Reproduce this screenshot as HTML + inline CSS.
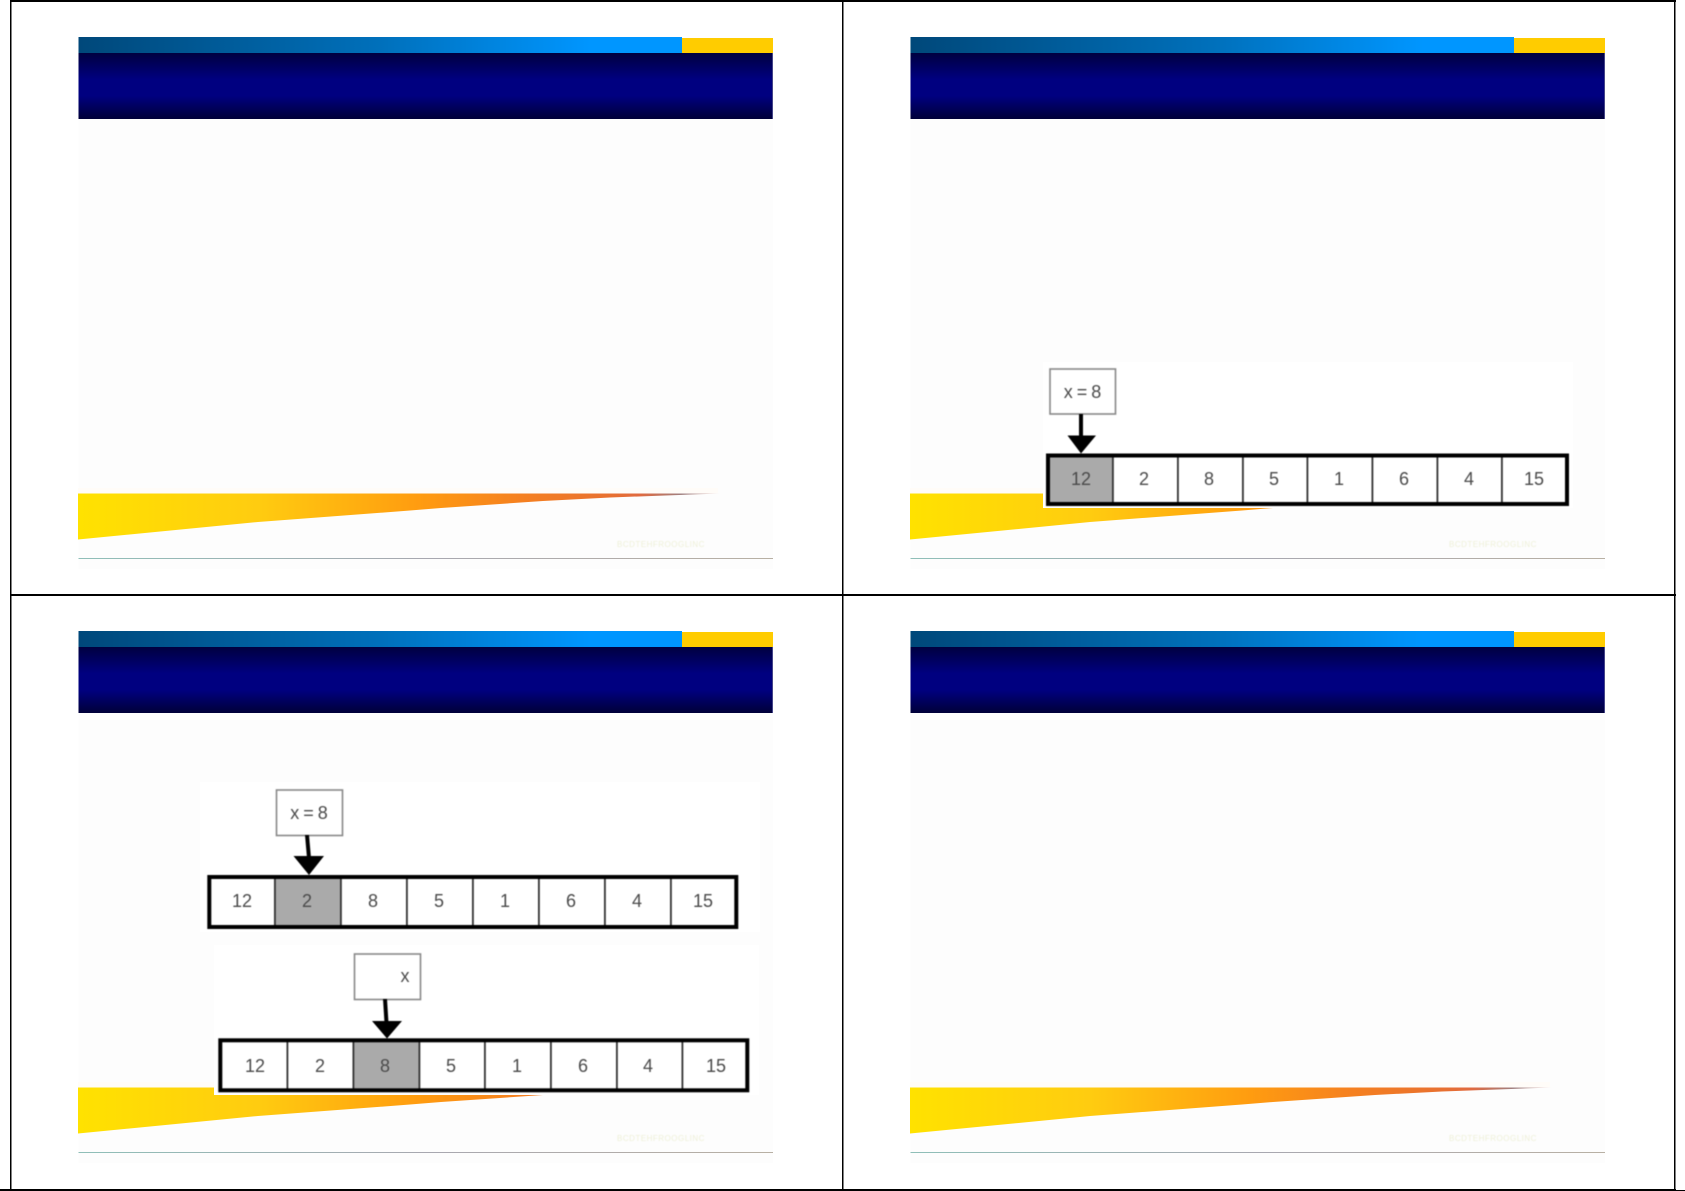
<!DOCTYPE html>
<html><head><meta charset="utf-8"><style>
html,body{margin:0;padding:0;background:#fff;width:1685px;height:1191px;overflow:hidden}
svg{display:block}
text{font-family:"Liberation Sans",sans-serif;font-size:18px;fill:#4a4a4a;text-anchor:middle}
.foot{font-size:8px;fill:#eef0d8;text-anchor:start;letter-spacing:.5px;filter:blur(.6px)}
.k{word-spacing:-1px}
</style></head><body>
<svg width="1685" height="1191" viewBox="0 0 1685 1191" xmlns="http://www.w3.org/2000/svg">
<defs>
<linearGradient id="b"><stop offset="0" stop-color="#00487a"/><stop offset=".5" stop-color="#0070bb"/><stop offset=".85" stop-color="#0096ff"/><stop offset="1" stop-color="#0096ff"/></linearGradient>
<linearGradient id="n" x2="0" y2="1"><stop offset="0" stop-color="#000040"/><stop offset=".4" stop-color="#000080"/><stop offset=".65" stop-color="#000080"/><stop offset="1" stop-color="#000038"/></linearGradient>
<linearGradient id="s"><stop offset="0" stop-color="#ffe200"/><stop offset=".28" stop-color="#ffcc10"/><stop offset=".53" stop-color="#ff9c10"/><stop offset=".69" stop-color="#f58020"/><stop offset=".83" stop-color="#e87030"/><stop offset=".875" stop-color="#e06a40"/><stop offset=".94" stop-color="#a08080"/><stop offset="1" stop-color="#fde4dc"/></linearGradient>
<linearGradient id="f"><stop offset="0" stop-color="#8fbfb8"/><stop offset=".5" stop-color="#a8a8b0"/><stop offset="1" stop-color="#b8b0a4"/></linearGradient>
<g id="slide">
<rect x="78.5" y="119" width="694.5" height="450" fill="#fdfdfd"/>
<rect x="78.5" y="37" width="603.5" height="16" fill="url(#b)"/>
<rect x="682" y="38" width="91" height="15" fill="#fc0"/>
<rect x="78.5" y="53" width="694.5" height="66" fill="url(#n)"/>
<rect x="772" y="53" width="1" height="66" fill="#444488"/>
<rect x="78" y="488" width="640" height="5" fill="#fffcf8"/>
<polygon points="78,493.5 720,493.5 610,497.5 543,501 441,508 410,510.5 258,522 78,539.5" fill="url(#s)"/>
<rect x="78.5" y="558" width="694.5" height="1" fill="url(#f)"/>
</g>
</defs>
<rect width="1685" height="1191" fill="#fff"/>
<use href="#slide"/>
<use href="#slide" x="832"/>
<use href="#slide" y="594"/>
<use href="#slide" x="832" y="594"/>
<text class="foot" x="617" y="547">BCDTEHFROOGLINC</text>
<text class="foot" x="1449" y="547">BCDTEHFROOGLINC</text>
<text class="foot" x="617" y="1141">BCDTEHFROOGLINC</text>
<text class="foot" x="1449" y="1141">BCDTEHFROOGLINC</text>

<!-- frame -->
<g fill="#000">
<rect x="10" y="0" width="1666" height="2"/>
<rect x="10" y="594" width="1666" height="2"/>
<rect x="0" y="1189" width="1676" height="2"/>
<rect x="1676" y="1190" width="9" height="1"/>
<rect x="10" y="0" width="1.5" height="1191"/>
<rect x="842" y="0" width="1.5" height="1191"/>
<rect x="1674" y="0" width="1.5" height="1191"/>
</g>

<!-- slide 2 -->
<rect x="1043" y="362" width="530" height="146" fill="#fff"/>
<g style="filter:blur(.45px)">
<rect x="1050" y="369" width="65.5" height="45" fill="#fff" stroke="#888" stroke-width="1.6"/>
<text class="k" x="1082.5" y="398">x = 8</text>
<rect x="1079" y="414" width="4" height="24" fill="#000"/>
<polygon points="1067.5,435.5 1096,435.5 1081,453.5" fill="#000"/>
<rect x="1048" y="455.5" width="519" height="48.5" fill="#fff"/>
<rect x="1048" y="455.5" width="65" height="48.5" fill="#aaa"/>
<g fill="#333">
<rect x="1112" y="455" width="1.8" height="49"/><rect x="1177" y="455" width="1.8" height="49"/><rect x="1242" y="455" width="1.8" height="49"/><rect x="1306.5" y="455" width="1.8" height="49"/><rect x="1371.5" y="455" width="1.8" height="49"/><rect x="1436.5" y="455" width="1.8" height="49"/><rect x="1501" y="455" width="1.8" height="49"/>
</g>
<rect x="1048" y="455.5" width="519" height="48.5" fill="none" stroke="#000" stroke-width="4"/>
<text x="1081" y="485">12</text><text x="1144" y="485">2</text><text x="1209" y="485">8</text><text x="1274" y="485">5</text><text x="1339" y="485">1</text><text x="1404" y="485">6</text><text x="1469" y="485">4</text><text x="1534" y="485">15</text>
</g>

<!-- slide 3, top -->
<rect x="200" y="782" width="560" height="150" fill="#fff"/>
<g style="filter:blur(.45px)">
<rect x="276.5" y="790" width="66" height="45.5" fill="#fff" stroke="#888" stroke-width="1.6"/>
<text class="k" x="309" y="819">x = 8</text>
<polygon points="305,835 309,835 311,858 307,858" fill="#000"/>
<polygon points="293.5,856 324,856 309,875" fill="#000"/>
<rect x="209.3" y="877" width="527" height="50" fill="#fff"/>
<rect x="275" y="877" width="66" height="50" fill="#aaa"/>
<g fill="#333">
<rect x="274" y="877" width="1.8" height="50"/><rect x="340" y="877" width="1.8" height="50"/><rect x="406" y="877" width="1.8" height="50"/><rect x="472" y="877" width="1.8" height="50"/><rect x="538" y="877" width="1.8" height="50"/><rect x="604" y="877" width="1.8" height="50"/><rect x="670" y="877" width="1.8" height="50"/>
</g>
<rect x="209.3" y="877" width="527" height="50" fill="none" stroke="#000" stroke-width="4"/>
<text x="242" y="907">12</text><text x="307" y="907">2</text><text x="373" y="907">8</text><text x="439" y="907">5</text><text x="505" y="907">1</text><text x="571" y="907">6</text><text x="637" y="907">4</text><text x="703" y="907">15</text>
</g>

<!-- slide 3, bottom -->
<rect x="214" y="945" width="545" height="150" fill="#fff"/>
<g style="filter:blur(.45px)">
<rect x="354.5" y="954" width="66" height="45.5" fill="#fff" stroke="#888" stroke-width="1.6"/>
<text x="405" y="982">x</text>
<polygon points="383,999 387,999 388.5,1023 384.5,1023" fill="#000"/>
<polygon points="372,1021 402,1021 387,1038.5" fill="#000"/>
<rect x="220.3" y="1040.3" width="527" height="50" fill="#fff"/>
<rect x="354" y="1040.3" width="65" height="50" fill="#aaa"/>
<g fill="#333">
<rect x="286.5" y="1040" width="1.8" height="50"/><rect x="352.5" y="1040" width="1.8" height="50"/><rect x="418.5" y="1040" width="1.8" height="50"/><rect x="484" y="1040" width="1.8" height="50"/><rect x="550" y="1040" width="1.8" height="50"/><rect x="616" y="1040" width="1.8" height="50"/><rect x="681.5" y="1040" width="1.8" height="50"/>
</g>
<rect x="220.3" y="1040.3" width="527" height="50" fill="none" stroke="#000" stroke-width="4"/>
<text x="255" y="1072">12</text><text x="320" y="1072">2</text><text x="385" y="1072">8</text><text x="451" y="1072">5</text><text x="517" y="1072">1</text><text x="583" y="1072">6</text><text x="648" y="1072">4</text><text x="716" y="1072">15</text>
</g>
</svg>
</body></html>
